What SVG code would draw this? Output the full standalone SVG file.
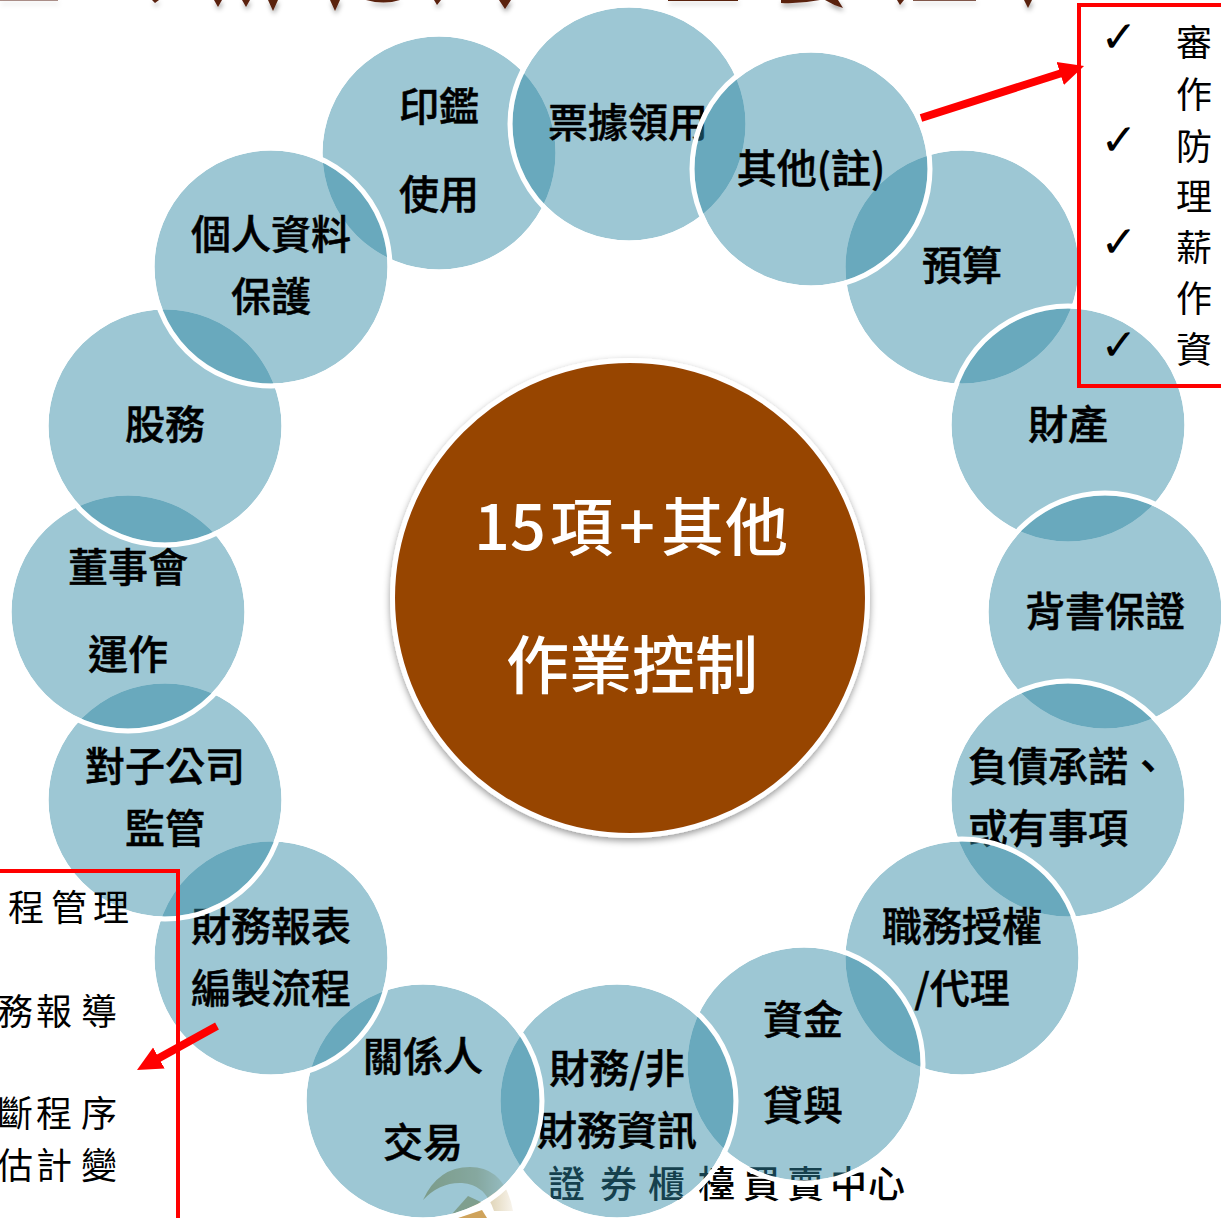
<svg xmlns="http://www.w3.org/2000/svg" width="1221" height="1218" viewBox="0 0 1221 1218">
<style>
text{font-family:"Noto Sans CJK TC","Noto Sans",sans-serif}
.f{fill:rgb(47,136,163);fill-opacity:.47}
.o{fill:none;stroke:#fff;stroke-width:5}
.n{font-size:40px;font-weight:500;fill:#000;stroke:#000;stroke-width:.5;text-anchor:middle}
.l{text-anchor:start}
.c{font-size:63px;font-weight:500;fill:#fff}
.b{font-size:36px;fill:#000}
.k{font-family:"DejaVu Sans",sans-serif;font-size:44px;font-weight:700;fill:#000;text-anchor:middle}
.box{fill:none;stroke:#f00;stroke-width:4}
.arr{stroke:#f00;stroke-width:8;fill:none;marker-end:url(#head)}
.t{fill:#5a2010}
</style>
<defs>
<marker id="head" markerUnits="userSpaceOnUse" markerWidth="30" markerHeight="30" refX="5" refY="15" orient="auto"><path d="M0,3 L25,15 L0,27 Z" fill="#f00"/></marker>
<filter id="ts" x="-50%" y="-50%" width="200%" height="250%"><feDropShadow dx="1" dy="3" stdDeviation="2.5" flood-color="#000" flood-opacity=".4"/></filter>
<filter id="cs" x="-10%" y="-10%" width="120%" height="120%"><feDropShadow dx="0" dy="3" stdDeviation="3.5" flood-color="#000" flood-opacity=".4"/></filter>
<linearGradient id="arc" x1="423" x2="513" y1="0" y2="0" gradientUnits="userSpaceOnUse"><stop offset="0" stop-color="#C0AD72"/><stop offset=".6" stop-color="#D3C49C"/><stop offset="1" stop-color="#F8F4EC"/></linearGradient>
</defs>
<rect width="1221" height="1218" fill="#fff"/>
<g id="title-fragments" filter="url(#ts)">
<path class="t" d="M152,0H159L155,3Z M214,0H222L218,7Z M242,0H250L246,7Z M268,0H278L273,11Z M330,0H340L335,11Z M366,0H400Q384,5 366,0Z M434,0H441L437,5Z M499,0H511L505,9Z"/>
<path class="t" d="M0,0H58V.6H0Z M668,0H738V1H668Z M781,0H820Q800,4 781,3Z M825,0H838L843,8Q833,5 825,0Z M897,0H904L900,5Z M913,0H976V.8H913Z M1024,0H1032L1028,8Z"/>
</g>
<g id="watermark">
<path d="M423,1200 Q438,1167 470,1167 Q505,1167 513,1211 L494,1211 Q485,1184 462,1183 Q440,1182 423,1200Z" fill="url(#arc)"/>
<path d="M468,1196 L452,1214 L483,1203Z" fill="#C6B37C"/>
<path d="M458,1218 L482,1210 L487,1218Z" fill="#CFA35B"/>
<text x="548 600 648 698 743 787 830 868" y="1198" font-size="37" font-weight="500" fill="#000">證券櫃檯買賣中心</text>
</g>
<g id="n-center"><circle cx="630" cy="598" r="237.5" fill="#974406" stroke="#fff" stroke-width="5" filter="url(#cs)"/>
<text class="c" x="474 510 550 619 661 725" y="550">15項+其他</text><text class="c" x="506 569 632 695" y="688">作業控制</text></g>
<g id="n-budget"><circle class="f" cx="962" cy="267" r="116.5"/><circle class="o" cx="962" cy="267" r="119"/><text class="n" x="962" y="280">預算</text></g>
<g id="n-property"><circle class="f" cx="1068" cy="425" r="116.5"/><circle class="o" cx="1068" cy="425" r="119"/><text class="n" x="1068" y="439">財產</text></g>
<g id="n-endorse"><circle class="f" cx="1105" cy="612" r="116.5"/><circle class="o" cx="1105" cy="612" r="119"/><text class="n" x="1105" y="626">背書保證</text></g>
<g id="n-liability"><circle class="f" cx="1068" cy="800" r="116.5"/><circle class="o" cx="1068" cy="800" r="119"/><text class="n l" x="968" y="781">負債承諾、</text><text class="n l" x="968" y="843">或有事項</text></g>
<g id="n-duty"><circle class="f" cx="962" cy="958" r="116.5"/><circle class="o" cx="962" cy="958" r="119"/><text class="n" x="962" y="941">職務授權</text><text class="n" x="962" y="1003">/代理</text></g>
<g id="n-loan"><circle class="f" cx="804" cy="1064" r="116.5"/><circle class="o" cx="804" cy="1064" r="119"/><text class="n" x="803" y="1034">資金</text><text class="n" x="803" y="1120">貸與</text></g>
<g id="n-info"><circle class="f" cx="617" cy="1101" r="116.5"/><circle class="o" cx="617" cy="1101" r="119"/><text class="n" x="617" y="1083">財務/非</text><text class="n" x="617" y="1145">財務資訊</text></g>
<g id="n-related"><circle class="f" cx="423" cy="1101" r="116.5"/><circle class="o" cx="423" cy="1101" r="119"/><text class="n" x="423" y="1071">關係人</text><text class="n" x="423" y="1157">交易</text></g>
<g id="n-report"><circle class="f" cx="271" cy="958" r="116.5"/><circle class="o" cx="271" cy="958" r="119"/><text class="n" x="271" y="941">財務報表</text><text class="n" x="271" y="1003">編製流程</text></g>
<g id="n-subsidiary"><circle class="f" cx="165" cy="800" r="116.5"/><circle class="o" cx="165" cy="800" r="119"/><text class="n" x="165" y="781">對子公司</text><text class="n" x="165" y="843">監管</text></g>
<g id="n-board"><circle class="f" cx="128" cy="612" r="116.5"/><circle class="o" cx="128" cy="612" r="119"/><text class="n" x="128" y="582">董事會</text><text class="n" x="128" y="669">運作</text></g>
<g id="n-stock"><circle class="f" cx="165" cy="426" r="116.5"/><circle class="o" cx="165" cy="426" r="119"/><text class="n" x="165" y="439">股務</text></g>
<g id="n-seal"><circle class="f" cx="439" cy="153" r="116.5"/><circle class="o" cx="439" cy="153" r="119"/><text class="n" x="439" y="121">印鑑</text><text class="n" x="439" y="209">使用</text></g>
<g id="n-privacy"><circle class="f" cx="271" cy="267" r="116.5"/><circle class="o" cx="271" cy="267" r="119"/><text class="n" x="271" y="249">個人資料</text><text class="n" x="271" y="311">保護</text></g>
<g id="n-voucher"><circle class="f" cx="629" cy="124" r="116.5"/><circle class="o" cx="629" cy="124" r="119"/><text class="n" x="628" y="137">票據領用</text></g>
<g id="n-other"><circle class="f" cx="811" cy="169" r="116.5"/><circle class="o" cx="811" cy="169" r="119"/><text class="n" x="811" y="183">其他(註)</text></g>
<g id="box-right"><rect class="box" x="1079" y="5" width="200" height="381"/>
<text class="k" x="1119" y="52">✓</text><text class="k" x="1119" y="155">✓</text><text class="k" x="1119" y="257">✓</text><text class="k" x="1119" y="360">✓</text>
<text class="b" x="1176" y="56">審</text><text class="b" x="1176" y="108">作</text><text class="b" x="1176" y="160">防</text><text class="b" x="1176" y="210">理</text><text class="b" x="1176" y="261">薪</text><text class="b" x="1176" y="312">作</text><text class="b" x="1176" y="363">資</text></g>
<g id="box-left"><rect class="box" x="-10" y="871" width="188" height="400"/>
<text class="b" x="8 51 93" y="921">程管理</text>
<text class="b" x="-3 36 81" y="1025">務報導</text>
<text class="b" x="-3 36 81" y="1127">斷程序</text>
<text class="b" x="-3 36 81" y="1179">估計變</text></g>
<g id="connectors"><path class="arr" d="M921,118 L1065,72"/><path class="arr" d="M217,1026 L154.5,1060.4"/></g>
</svg>
